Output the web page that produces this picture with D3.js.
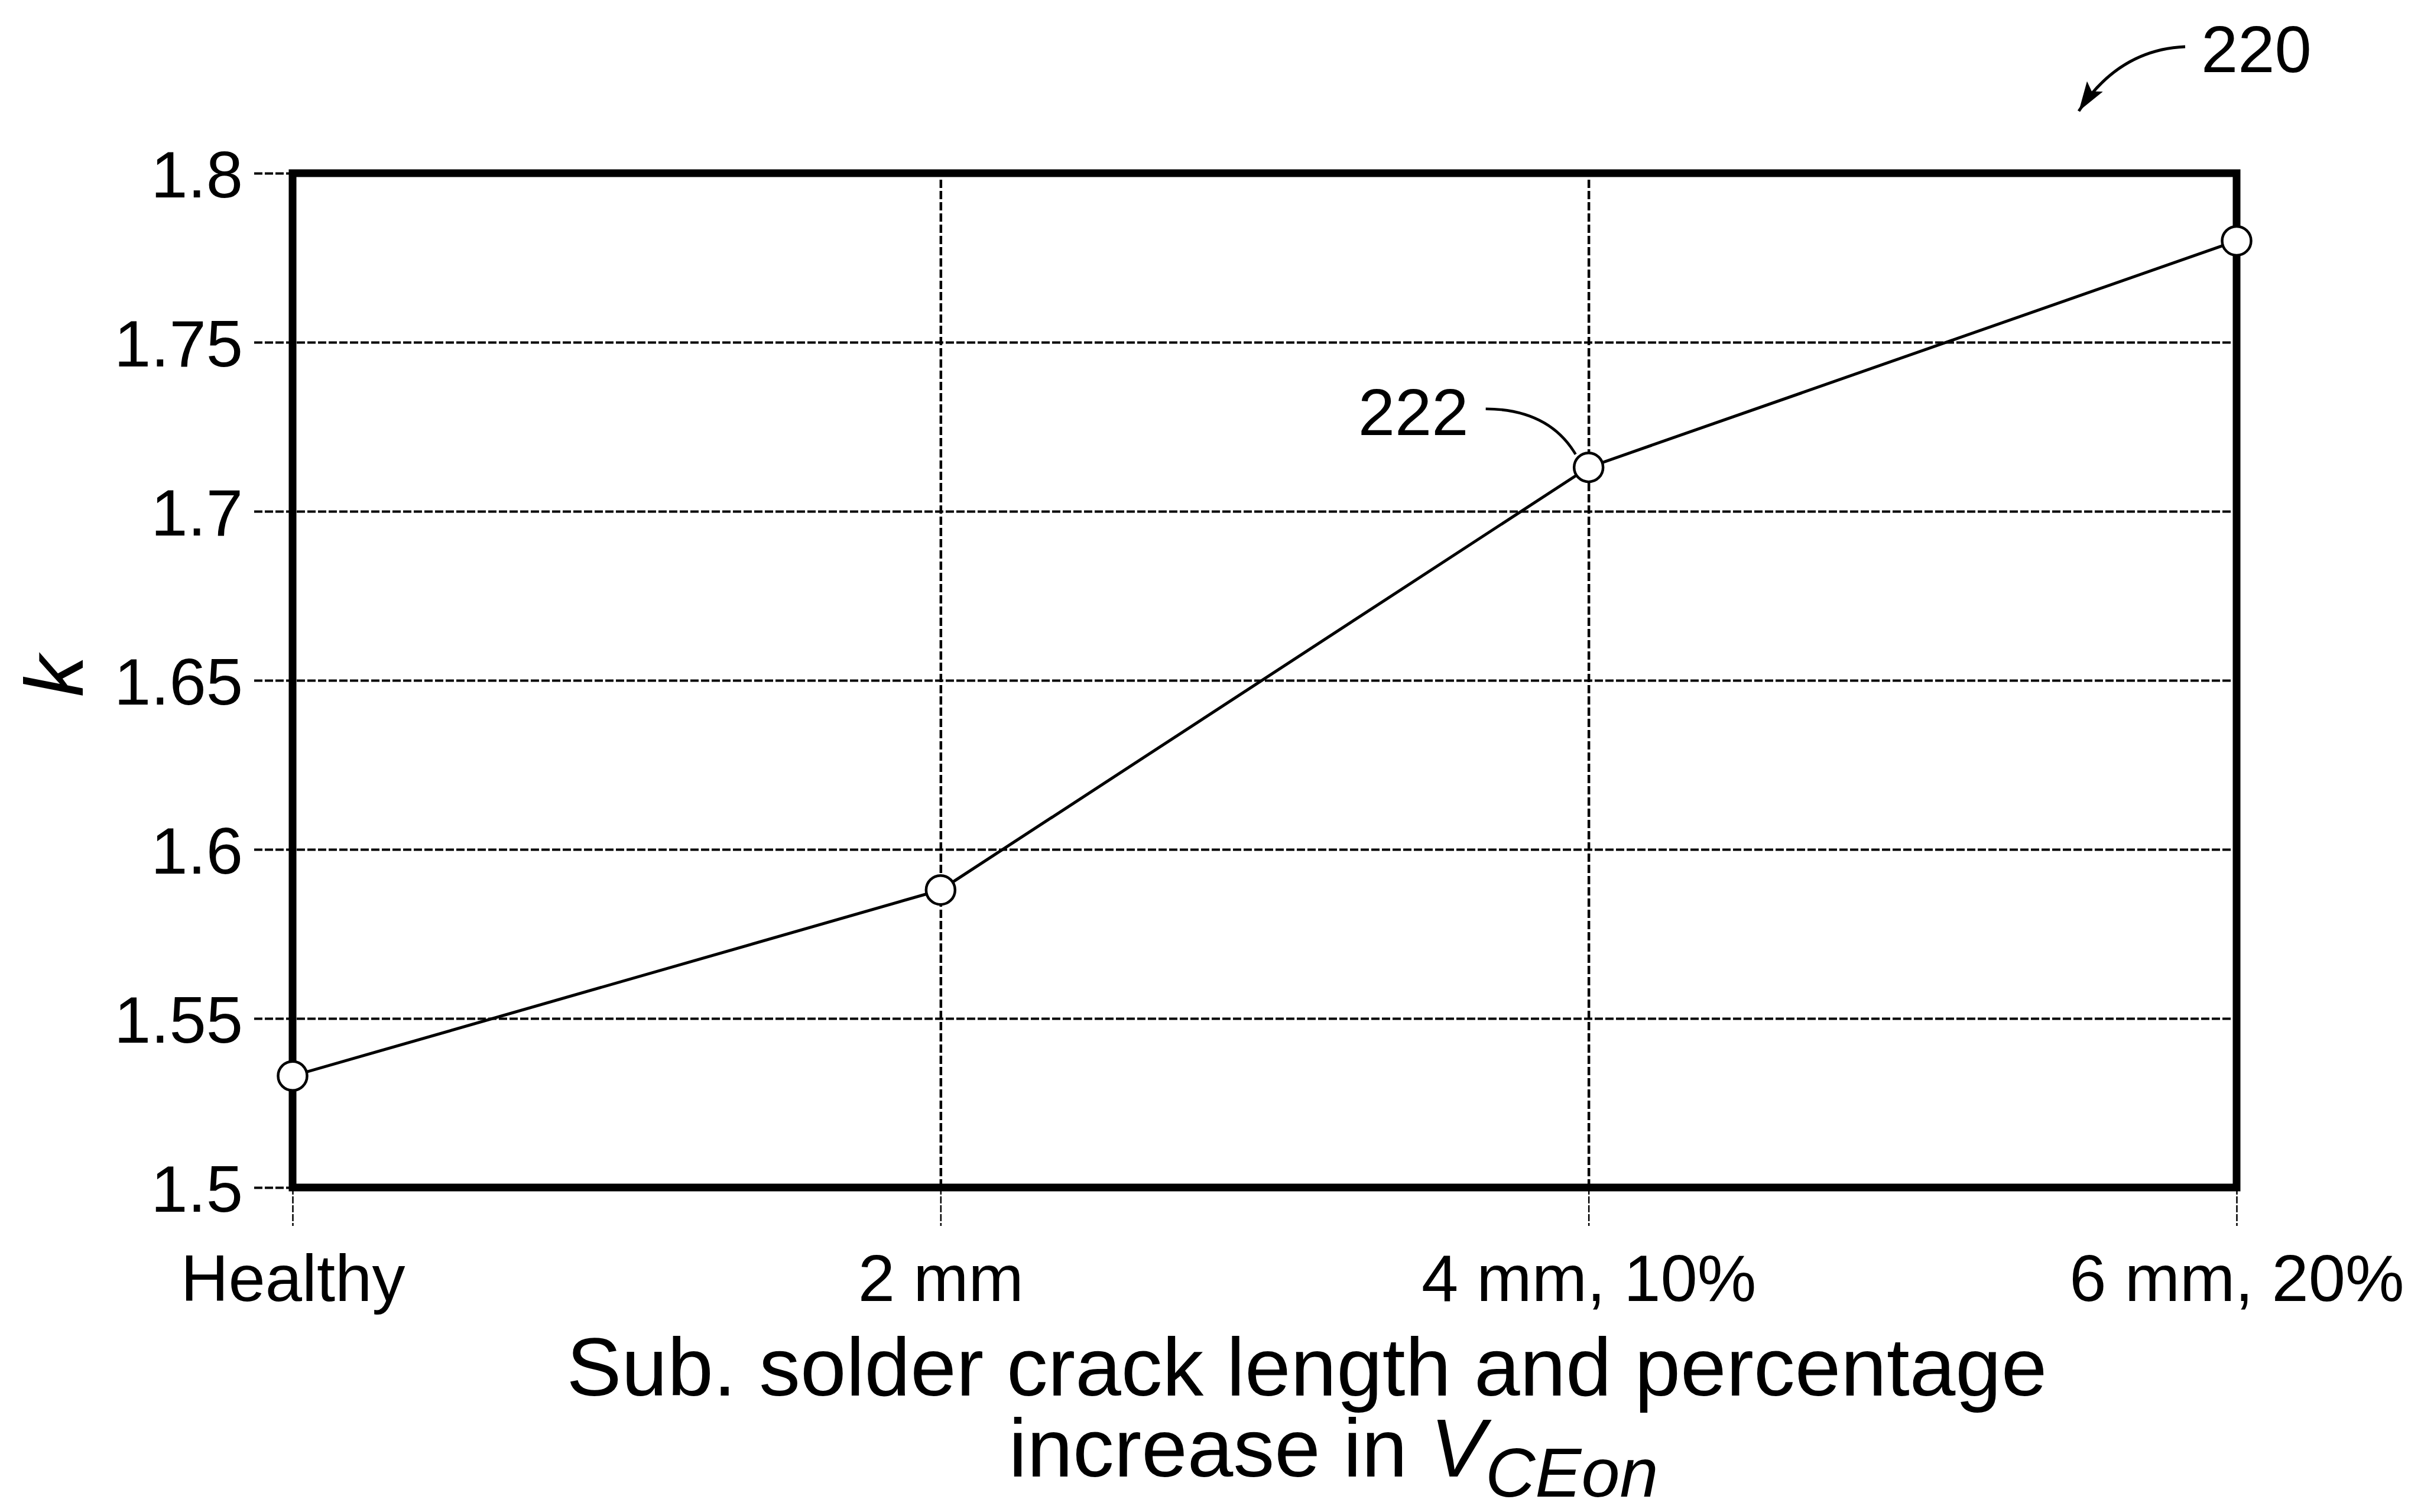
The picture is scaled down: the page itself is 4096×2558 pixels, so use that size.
<!DOCTYPE html>
<html>
<head>
<meta charset="utf-8">
<script src="https://cdn.jsdelivr.net/npm/d3@7"></script>
<style>
  html, body { margin: 0; padding: 0; background: #fff; }
  svg { display: block; }
  text { white-space: pre; }
</style>
</head>
<body>
<svg id="chart" width="4096" height="2558"></svg>
<script>
"use strict";

var categories = ["Healthy", "2 mm", "4 mm, 10%", "6 mm, 20%"];
var kValues = [1.533, 1.588, 1.713, 1.780];
var yTickValues = [1.5, 1.55, 1.6, 1.65, 1.7, 1.75, 1.8];
var yTickLabels = ["1.5", "1.55", "1.6", "1.65", "1.7", "1.75", "1.8"];

var font = '"Liberation Sans", Arial, Helvetica, sans-serif';
var svg = d3.select("#chart").attr("font-family", font);
var plot = { left: 495, right: 3784, top: 293, bottom: 2009 };
var width = plot.right - plot.left;
var height = plot.bottom - plot.top;
var tickLen = 65;

var x = d3.scalePoint().domain(categories).range([plot.left, plot.right]);
var y = d3.scaleLinear().domain([1.5, 1.8]).range([plot.bottom, plot.top]);

svg.append("rect").attr("width", 4096).attr("height", 2558).attr("fill", "#fff");

// horizontal grid, running out past the frame as the left ticks
var yAxis = d3.axisLeft(y)
    .tickValues(yTickValues)
    .tickSize(-(width + tickLen))
    .tickPadding(19)
    .tickFormat(function (d, i) { return yTickLabels[i]; });
var gY = svg.append("g")
    .attr("class", "axis axis-y")
    .attr("transform", "translate(" + (plot.left - tickLen) + ",0)")
    .call(yAxis)
    .attr("font-family", font);
gY.select(".domain").remove();
gY.selectAll("line")
    .attr("stroke", "#000")
    .attr("stroke-width", 4)
    .attr("stroke-dasharray", "14,4");
gY.selectAll("text")
    .attr("font-size", 112)
    .attr("fill", "#000")
    .attr("dy", "0.36em");

// vertical grid
var gGrid = svg.append("g")
    .attr("class", "grid grid-x")
    .attr("transform", "translate(0," + plot.bottom + ")")
    .call(d3.axisBottom(x).tickSize(-height).tickFormat(""));
gGrid.select(".domain").remove();
gGrid.selectAll("line")
    .attr("stroke", "#000")
    .attr("stroke-width", 4.5)
    .attr("stroke-dasharray", "14,5");

// bottom ticks and category labels
var gX = svg.append("g")
    .attr("class", "axis axis-x")
    .attr("transform", "translate(0," + plot.bottom + ")")
    .call(d3.axisBottom(x).tickSize(tickLen))
    .attr("font-family", font);
gX.select(".domain").remove();
gX.selectAll("line")
    .attr("stroke", "#000")
    .attr("stroke-width", 2.5)
    .attr("stroke-dasharray", "12,3");
gX.selectAll("text")
    .attr("font-size", 112)
    .attr("fill", "#000")
    .attr("y", 192)
    .attr("dy", 0);

// heavy frame
svg.append("rect")
    .attr("x", plot.left)
    .attr("y", plot.top)
    .attr("width", width)
    .attr("height", height)
    .attr("fill", "none")
    .attr("stroke", "#000")
    .attr("stroke-width", 13);

// series
var line = d3.line()
    .x(function (d, i) { return x(categories[i]); })
    .y(function (d) { return y(d); });
svg.append("path")
    .datum(kValues)
    .attr("d", line)
    .attr("fill", "none")
    .attr("stroke", "#000")
    .attr("stroke-width", 5);
svg.selectAll(".dot")
    .data(kValues)
    .enter().append("circle")
    .attr("class", "dot")
    .attr("cx", function (d, i) { return x(categories[i]); })
    .attr("cy", function (d) { return y(d); })
    .attr("r", 24.5)
    .attr("fill", "#fff")
    .attr("stroke", "#000")
    .attr("stroke-width", 4.5);

// axis titles
svg.append("text")
    .attr("transform", "translate(140,1144) rotate(-90)")
    .attr("text-anchor", "middle")
    .attr("font-style", "italic")
    .attr("font-size", 140)
    .text("k");
svg.append("text")
    .attr("x", 2211)
    .attr("y", 2361)
    .attr("text-anchor", "middle")
    .attr("font-size", 139.5)
    .text("Sub. solder crack length and percentage");
var t2 = svg.append("text")
    .attr("x", 2256)
    .attr("y", 2498)
    .attr("text-anchor", "middle")
    .attr("font-size", 139.5);
t2.append("tspan").text("increase in ");
t2.append("tspan").attr("font-style", "italic").text("V");
t2.append("tspan")
    .attr("font-style", "italic")
    .attr("font-size", 117)
    .attr("dy", 34)
    .text("CEon");

// reference numeral 222 with its leader to the 4 mm point
var px = x(categories[2]), py = y(kValues[2]);
svg.append("path")
    .attr("d", "M" + (px - 174) + "," + (py - 99) +
        "Q" + (px - 67) + "," + (py - 98) + " " + (px - 22) + "," + (py - 22))
    .attr("fill", "none")
    .attr("stroke", "#000")
    .attr("stroke-width", 4.5);
svg.append("text")
    .attr("x", px - 203)
    .attr("y", py - 55)
    .attr("text-anchor", "end")
    .attr("font-size", 112)
    .text("222");

// figure numeral 220 with curved arrow
svg.append("defs").append("marker")
    .attr("id", "head")
    .attr("markerUnits", "userSpaceOnUse")
    .attr("viewBox", "0 -17 50 34")
    .attr("markerWidth", 50)
    .attr("markerHeight", 34)
    .attr("refX", 50)
    .attr("refY", 0)
    .attr("orient", "auto")
    .append("path")
    .attr("d", "M0,-16L50,0L0,16L10,0Z")
    .attr("fill", "#000");
svg.append("path")
    .attr("d", "M3697,79Q3585,84 3517,188")
    .attr("fill", "none")
    .attr("stroke", "#000")
    .attr("stroke-width", 5)
    .attr("marker-end", "url(#head)");
svg.append("text")
    .attr("x", 3724)
    .attr("y", 122)
    .attr("font-size", 112)
    .text("220");
</script>
</body>
</html>
